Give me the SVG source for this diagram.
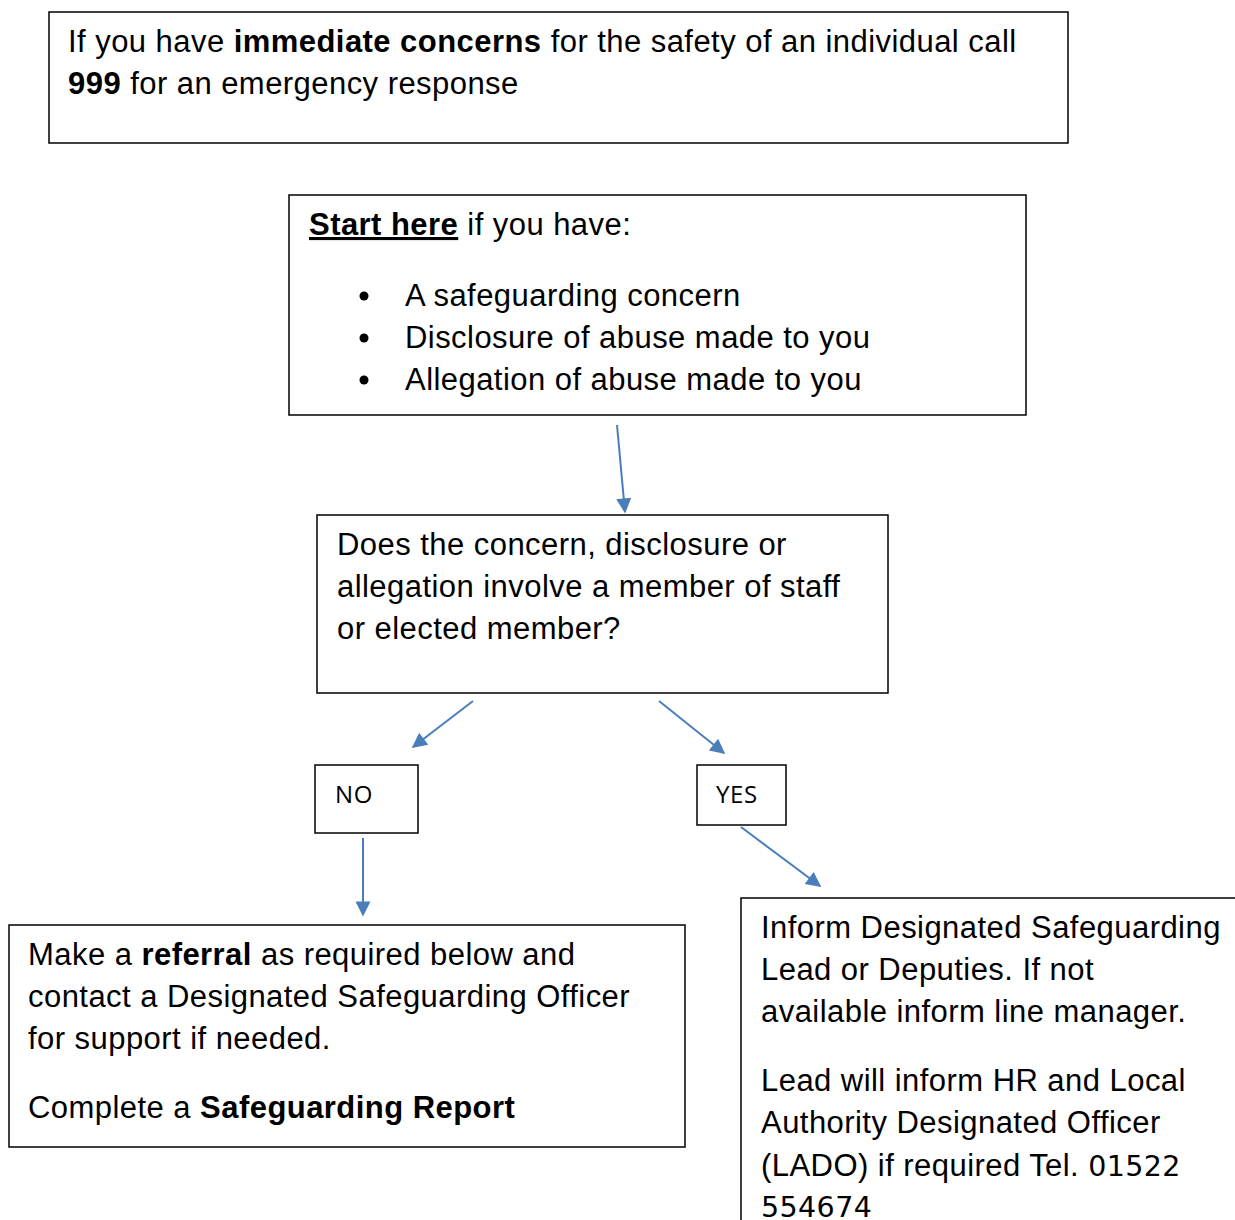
<svg xmlns="http://www.w3.org/2000/svg" width="1235" height="1220" viewBox="0 0 1235 1220">
<defs>
<style>
.box{fill:#fff;stroke:#000;stroke-width:1.5}
.t{font-family:"Liberation Sans",Arial,sans-serif;font-size:31px;letter-spacing:0.45px;fill:#000}
.b{font-weight:bold}
.c{font-family:"Open Sans","Liberation Sans",sans-serif;font-size:24px;letter-spacing:0.6px;fill:#000}
.v{font-family:"DejaVu Sans",Verdana,sans-serif;font-size:28.5px;letter-spacing:0.4px}
.arr{stroke:#4a7ebb;stroke-width:2;fill:none;marker-end:url(#ah)}
</style>
<marker id="ah" viewBox="0 0 10 10" refX="9" refY="5" markerWidth="8" markerHeight="7.5" markerUnits="strokeWidth" orient="auto">
<path d="M0,0 L10,5 L0,10 z" fill="#4a7ebb"/>
</marker>
</defs>
<rect width="1235" height="1220" fill="#fff"/>
<g id="emergency">
<rect class="box" x="49" y="12" width="1019" height="131"/>
<text class="t" x="68" y="52">If you have <tspan class="b">immediate concerns</tspan> for the safety of an individual call</text>
<text class="t" x="68" y="94"><tspan class="b">999</tspan> for an emergency response</text>
</g>
<g id="start">
<rect class="box" x="289" y="195" width="737" height="220"/>
<text class="t" x="309" y="235"><tspan class="b" text-decoration="underline">Start here</tspan> if you have:</text>
<circle cx="364" cy="296" r="4.5"/>
<circle cx="364" cy="338" r="4.5"/>
<circle cx="364" cy="380" r="4.5"/>
<text class="t" x="405" y="306">A safeguarding concern</text>
<text class="t" x="405" y="348">Disclosure of abuse made to you</text>
<text class="t" x="405" y="390">Allegation of abuse made to you</text>
</g>
<g id="question">
<rect class="box" x="317" y="515" width="571" height="178"/>
<text class="t" x="337" y="555">Does the concern, disclosure or</text>
<text class="t" x="337" y="597">allegation involve a member of staff</text>
<text class="t" x="337" y="639">or elected member?</text>
</g>
<g id="no">
<rect class="box" x="315" y="765" width="103" height="68"/>
<text class="c" x="335" y="803">NO</text>
</g>
<g id="yes">
<rect class="box" x="697" y="765" width="89" height="60"/>
<text class="c" x="716" y="803">YES</text>
</g>
<g id="referral">
<rect class="box" x="9" y="925" width="676" height="222"/>
<text class="t" x="28" y="965">Make a <tspan class="b">referral</tspan> as required below and</text>
<text class="t" x="28" y="1007">contact a Designated Safeguarding Officer</text>
<text class="t" x="28" y="1049">for support if needed.</text>
<text class="t" x="28" y="1118">Complete a <tspan class="b">Safeguarding Report</tspan></text>
</g>
<g id="inform">
<path d="M741,1220 V898 H1235" fill="none" stroke="#000" stroke-width="1.5"/>
<text class="t" x="761" y="938">Inform Designated Safeguarding</text>
<text class="t" x="761" y="980">Lead or Deputies. If not</text>
<text class="t" x="761" y="1022">available inform line manager.</text>
<text class="t" x="761" y="1091">Lead will inform HR and Local</text>
<text class="t" x="761" y="1133">Authority Designated Officer</text>
<text class="t" x="761" y="1176">(LADO) if required Tel. <tspan class="v">01522</tspan></text>
<text class="t v" x="761" y="1217">554674</text>
</g>
<g id="connectors">
<line class="arr" x1="617" y1="425" x2="625" y2="512"/>
<line class="arr" x1="473" y1="701" x2="413" y2="747"/>
<line class="arr" x1="659" y1="701" x2="724" y2="753"/>
<line class="arr" x1="363" y1="838" x2="363" y2="915"/>
<line class="arr" x1="741" y1="827" x2="820" y2="886"/>
</g>
</svg>
